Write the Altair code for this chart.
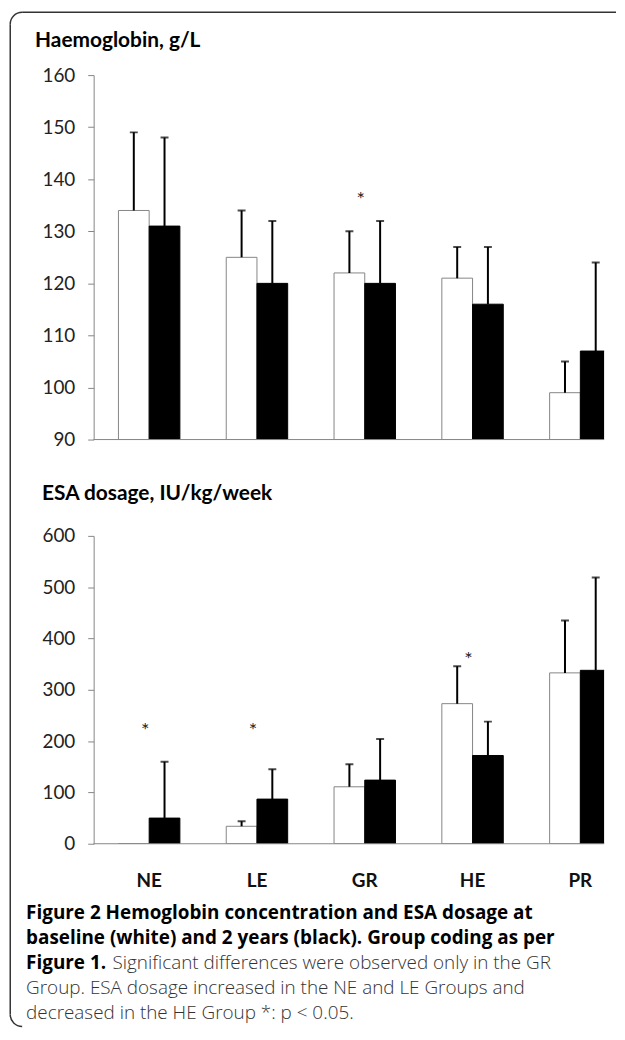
import math
import altair as alt
import pandas as pd

# ---------------- data ----------------
groups = ["NE", "LE", "GR", "HE", "PR"]
series = ["baseline", "2 years"]

hb_baseline = [134, 125, 122, 121, 99]
hb_baseline_upper = [149, 134, 130, 127, 105]
hb_two_years = [131, 120, 120, 116, 107]
hb_two_years_upper = [148, 132, 132, 127, 124]

esa_baseline = [0, 34, 111, 273, 333]
esa_baseline_upper = [None, 44, 155, 346, 435]
esa_two_years = [50, 87, 124, 172, 338]
esa_two_years_upper = [160, 145, 204, 238, 519]

hb_star_groups = ["GR"]
hb_star_values = [137]
esa_star_groups = ["NE", "LE", "HE"]
esa_star_values = [230, 230, 367]

hb_ticks = [90, 100, 110, 120, 130, 140, 150, 160]
esa_ticks = [0, 100, 200, 300, 400, 500, 600]

hb_title = "Haemoglobin, g/L"
esa_title = "ESA dosage, IU/kg/week"
caption_bold_1 = "Figure 2 Hemoglobin concentration and ESA dosage at"
caption_bold_2 = "baseline (white) and 2 years (black). Group coding as per"
caption_bold_3 = "Figure 1."
caption_reg_3 = "Significant differences were observed only in the GR"
caption_reg_4 = "Group. ESA dosage increased in the NE and LE Groups and"
caption_reg_5 = "decreased in the HE Group *: p < 0.05."


def long_df(b, bu, t, tu, base):
    rows = []
    for i, g in enumerate(groups):
        rows.append(dict(group=g, series=series[0], value=b[i], upper=bu[i], base=base))
        rows.append(dict(group=g, series=series[1], value=t[i], upper=tu[i], base=base))
    return pd.DataFrame(rows)


hb_df = long_df(hb_baseline, hb_baseline_upper, hb_two_years, hb_two_years_upper, hb_ticks[0])
esa_df = long_df(esa_baseline, esa_baseline_upper, esa_two_years, esa_two_years_upper, esa_ticks[0])
hb_stars = pd.DataFrame({"group": hb_star_groups, "value": hb_star_values})
esa_stars = pd.DataFrame({"group": esa_star_groups, "value": esa_star_values})
group_df = pd.DataFrame({"group": groups})
one = pd.DataFrame({"k": [0]})

FONT = "Lato"
CAP_FONT = "Open Sans"
GRAY = "#858585"
INK = "#222222"

W = 514
H1 = 367
H2 = 310


def panel(df, stars, ticks, height, show_labels):
    ymin, ymax = ticks[0], ticks[-1]
    x = alt.X(
        "group:N", sort=groups, title=None,
        scale=alt.Scale(range=[0, 546], paddingInner=0.43, paddingOuter=0.23),
        axis=None,
    )
    y_scale = alt.Scale(domain=[ymin, ymax], nice=False, zero=False)
    y_axis = alt.Axis(values=ticks, domainColor=GRAY, domainWidth=1, tickColor=GRAY,
                      tickSize=6, tickWidth=1, labelFont=FONT, labelFontSize=19,
                      labelColor=INK, labelPadding=13, grid=False)
    xo = alt.XOffset("series:N", sort=series, scale=alt.Scale(paddingInner=0, paddingOuter=0))

    base = alt.Chart(df)
    bars = base.mark_bar(clip=True, strokeWidth=1).encode(
        x=x, xOffset=xo,
        y=alt.Y("value:Q", scale=y_scale, axis=y_axis, title=None),
        y2="base:Q",
        fill=alt.Fill("series:N", scale=alt.Scale(domain=series, range=["#ffffff", "#000000"]), legend=None),
        stroke=alt.Stroke("series:N", scale=alt.Scale(domain=series, range=[GRAY, "#000000"]), legend=None),
    )
    err = base.transform_filter("isValid(datum.upper)")
    rules = err.mark_rule(clip=True, color="black", strokeWidth=2).encode(
        x=x, xOffset=xo,
        y=alt.Y("value:Q", scale=y_scale, axis=y_axis, title=None),
        y2="upper:Q",
    )
    caps = err.mark_tick(clip=True, color="black", size=8, thickness=2, orient="horizontal").encode(
        x=x, xOffset=xo,
        y=alt.Y("upper:Q", scale=y_scale, axis=y_axis, title=None),
    )
    star = alt.Chart(stars).mark_text(clip=True, text="*", font=FONT, fontSize=20, dx=-4, dy=5, color=INK).encode(
        x=x,
        y=alt.Y("value:Q", scale=y_scale, axis=y_axis, title=None),
    )
    baseline = alt.Chart(pd.DataFrame({"base": [ymin]})).mark_rule(color=GRAY, strokeWidth=1).encode(
        y=alt.Y("base:Q", scale=y_scale, axis=y_axis, title=None),
    )
    layers = [bars, rules, caps, star, baseline]
    if show_labels:
        layers.append(
            alt.Chart(group_df).mark_text(
                font=FONT, fontWeight="bold", fontSize=19, baseline="top", color="#111111",
            ).encode(x=x, y=alt.value(height + 29), text="group:N")
        )
    return layers


def label(text, x, y, size, weight="bold", font=FONT, color="#000000"):
    return alt.Chart(one).mark_text(
        align="left", baseline="alphabetic", font=font, fontSize=size,
        fontWeight=weight, color=color,
    ).encode(x=alt.value(x), y=alt.value(y), text=alt.value(text))


# ---- frame (coordinates relative to the top panel's plot area) ----
R_CORNER = 12
FL, FT, FB, FR = 10 - 94, 8.75 - 72, 1030 - 72, 620 - 94
frame_color = "#333333"
frame = [
    alt.Chart(one).mark_rule(color=frame_color, strokeWidth=1.5).encode(
        x=alt.value(FL + R_CORNER), x2=alt.value(FR), y=alt.value(FT)),
    alt.Chart(one).mark_rule(color=frame_color, strokeWidth=1.5).encode(
        x=alt.value(FL), y=alt.value(FT + R_CORNER), y2=alt.value(FB - R_CORNER)),
    alt.Chart(one).mark_arc(theta=1.5 * math.pi, theta2=2 * math.pi,
                            radius=R_CORNER + 0.75, radius2=R_CORNER - 0.75,
                            color=frame_color).encode(
        x=alt.value(FL + R_CORNER), y=alt.value(FT + R_CORNER)),
    alt.Chart(one).mark_arc(theta=math.pi, theta2=1.5 * math.pi,
                            radius=R_CORNER + 0.75, radius2=R_CORNER - 0.75,
                            color=frame_color).encode(
        x=alt.value(FL + R_CORNER), y=alt.value(FB - R_CORNER)),
]

top = alt.layer(
    *panel(hb_df, hb_stars, hb_ticks, H1, False), *frame,
    label(hb_title, 35 - 94, 44 - 72, 21),
).properties(width=W, height=H1)

CX = 26 - 94
P2 = 536
CAP = 19
bottom = alt.layer(
    *panel(esa_df, esa_stars, esa_ticks, H2, True),
    label(esa_title, 42 - 94, 500 - P2, 21),
    label(caption_bold_1, CX, 922 - P2, CAP, "bold", CAP_FONT),
    label(caption_bold_2, CX, 947 - P2, CAP, "bold", CAP_FONT),
    label(caption_bold_3, CX, 972 - P2, CAP, "bold", CAP_FONT),
    label(caption_reg_3, 113 - 94, 972 - P2, CAP, 300, CAP_FONT, "#333333"),
    label(caption_reg_4, CX, 997 - P2, CAP, 300, CAP_FONT, "#333333"),
    label(caption_reg_5, CX, 1022 - P2, CAP, 300, CAP_FONT, "#333333"),
).properties(width=W, height=H2)

chart = alt.vconcat(top, bottom, spacing=97, bounds="flush").properties(
    padding={"left": 1.25, "top": 0, "right": 0, "bottom": 0},
    background="white",
).configure_view(stroke=None)

chart.save("out.html", embed_options={"renderer": "svg", "actions": False})
